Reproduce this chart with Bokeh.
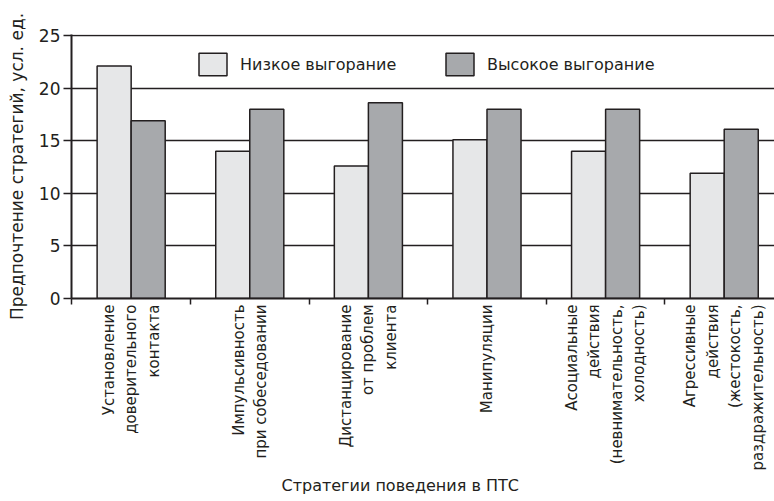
import math
from bokeh.plotting import figure
from bokeh.models import Range1d, FixedTicker, ColumnDataSource, Legend, LegendItem, Title
from bokeh.transform import dodge
from bokeh.embed import file_html
from bokeh.resources import INLINE

categories = [
    "Установление\nдоверительного\nконтакта",
    "Импульсивность\nпри собеседовании",
    "Дистанцирование\nот проблем\nклиента",
    "Манипуляции",
    "Асоциальные\nдействия\n(невнимательность,\nхолодность)",
    "Агрессивные\nдействия\n(жестокость,\nраздражительность)",
]
low = [22.1, 14.0, 12.6, 15.1, 14.0, 11.9]
high = [16.9, 18.0, 18.6, 18.0, 18.0, 16.1]
y_ticks = [0, 5, 10, 15, 20, 25]
series_names = ["Низкое выгорание", "Высокое выгорание"]
x_title = "Стратегии поведения  в ПТС"
y_title = "Предпочтение стратегий, усл. ед."

FONT = "DejaVu Sans"
INK = "#231f20"

xs = list(range(len(categories)))
source = ColumnDataSource(dict(x=xs, low=low, high=high))

p = figure(width=774, height=501,
           x_range=Range1d(-0.503, 5.424), y_range=Range1d(0, 25.1),
           output_backend="svg", toolbar_location=None,
           min_border_left=71, min_border_right=0, min_border_top=34,
           min_border_bottom=203)
p.outline_line_color = None
p.background_fill_color = "white"

bw = 0.287
r_low = p.vbar(x=dodge("x", -bw / 2, range=p.x_range), top="low", width=bw, bottom=0,
               source=source, fill_color="#e6e7e8", line_color=INK, line_width=1.5)
r_high = p.vbar(x=dodge("x", bw / 2, range=p.x_range), top="high", width=bw, bottom=0,
                source=source, fill_color="#a7a9ac", line_color=INK, line_width=1.5)

# y axis
yax = p.yaxis[0]
yax.ticker = FixedTicker(ticks=y_ticks)
yax.axis_line_width = 2
yax.axis_line_color = INK
yax.major_tick_out = 8
yax.major_tick_in = 0
yax.major_tick_line_width = 1.5
yax.major_tick_line_color = INK
yax.minor_tick_line_color = None
yax.major_label_standoff = 3
yax.major_label_text_font = FONT
yax.major_label_text_font_size = "17px"
yax.major_label_text_color = INK
yax.axis_label = y_title
yax.axis_label_text_font = FONT
yax.axis_label_text_font_size = "17px"
yax.axis_label_text_font_style = "normal"
yax.axis_label_text_color = INK
yax.axis_label_standoff = 9

# x axis
xax = p.xaxis[0]
xax.ticker = FixedTicker(ticks=xs, minor_ticks=[-0.503] + [i + 0.5 for i in xs])
xax.major_label_overrides = {i: c for i, c in zip(xs, categories)}
xax.major_label_orientation = math.pi / 2
xax.major_label_text_font = FONT
xax.major_label_text_font_size = "15px"
xax.major_label_text_color = INK
xax.major_label_text_line_height = 1.25
xax.major_label_standoff = 0
xax.axis_line_width = 2
xax.axis_line_color = INK
xax.major_tick_out = 0
xax.major_tick_in = 0
xax.minor_tick_out = 6
xax.minor_tick_in = 0
xax.minor_tick_line_width = 1.5
xax.minor_tick_line_color = INK

# grid
p.xgrid.grid_line_color = None
p.ygrid.ticker = FixedTicker(ticks=y_ticks)
p.ygrid.grid_line_color = INK
p.ygrid.grid_line_width = 1.6

# legend
legend = Legend(items=[LegendItem(label=series_names[0], renderers=[r_low]),
                       LegendItem(label=series_names[1], renderers=[r_high])],
                orientation="horizontal", location=(124, 220),
                padding=0, margin=0, spacing=0, border_line_color=None,
                background_fill_alpha=0, glyph_width=35, glyph_height=28,
                label_standoff=10, label_width=202, label_height=28,
                label_text_font=FONT, label_text_font_size="16px",
                label_text_color=INK)
p.add_layout(legend, "center")

# x title
p.add_layout(Title(text=x_title, align="left", offset=210, standoff=0,
                   text_font=FONT, text_font_size="16px", text_font_style="normal",
                   text_color=INK), "below")

open("out.html", "w").write(file_html(p, INLINE))
